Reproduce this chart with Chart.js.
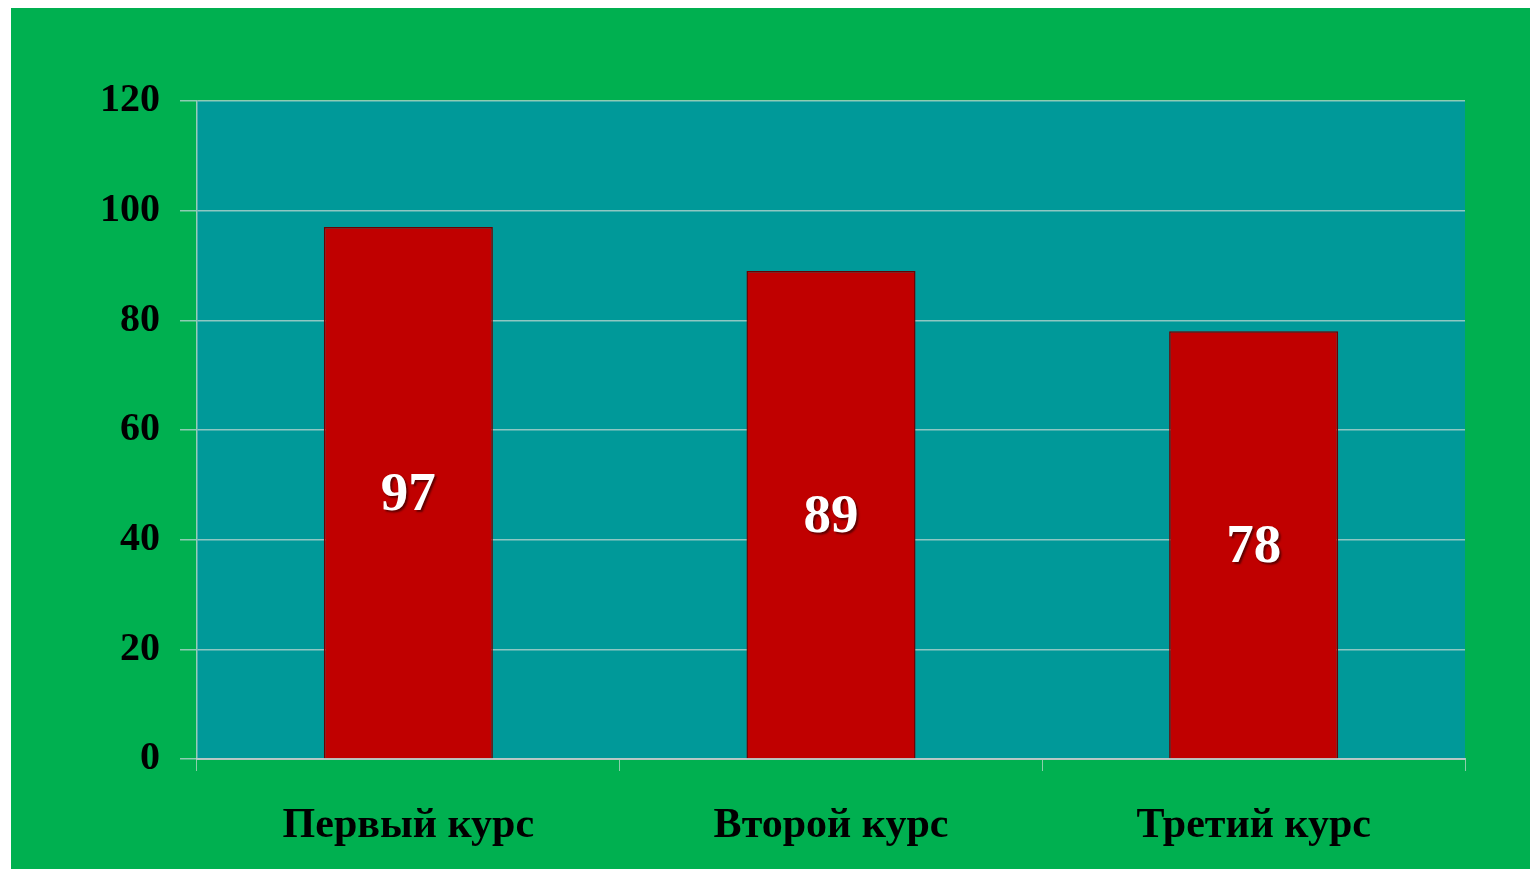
<!DOCTYPE html>
<html>
<head>
<meta charset="utf-8">
<script src="https://cdn.jsdelivr.net/npm/chart.js@4"></script>
<style>
  html, body { margin: 0; padding: 0; background: #ffffff; }
  #wrap { position: absolute; left: 11px; top: 8px; width: 1519px; height: 861px; background: #00b050; }
</style>
</head>
<body>
<div id="wrap"><canvas id="chart"></canvas></div>
<script>
// chart data
const courses = ["Первый курс", "Второй курс", "Третий курс"];
const scores = [97, 89, 78];
const yTicks = [0, 20, 40, 60, 80, 100, 120];

// teal plot background
const plotBg = {
  id: "plotBg",
  beforeDraw(chart) {
    const a = chart.chartArea;
    const ctx = chart.ctx;
    ctx.save();
    ctx.fillStyle = "#009999";
    ctx.fillRect(a.left, a.top, a.right - a.left, a.bottom - a.top);
    ctx.restore();
  },
};

// numbers in the middle of the bars
const barLabels = {
  id: "barLabels",
  afterDatasetsDraw(chart) {
    const ctx = chart.ctx;
    const meta = chart.getDatasetMeta(0);
    ctx.save();
    ctx.font = "bold 55px 'Liberation Serif'";
    ctx.fillStyle = "#ffffff";
    ctx.textAlign = "center";
    ctx.textBaseline = "middle";
    ctx.shadowColor = "rgba(0,0,0,0.5)";
    ctx.shadowOffsetX = 2;
    ctx.shadowOffsetY = 2;
    ctx.shadowBlur = 2;
    meta.data.forEach((bar, i) => {
      ctx.fillText(scores[i], bar.x, (bar.y + bar.base) / 2 + 3);
    });
    ctx.restore();
  },
};

new Chart(document.getElementById("chart"), {
  type: "bar",
  data: {
    labels: courses,
    datasets: [
      {
        data: scores,
        backgroundColor: "#c00000",
        borderColor: "#6e0000",
        borderWidth: 1.5,
        categoryPercentage: 1,
        barPercentage: 0.4,
      },
    ],
  },
  options: {
    responsive: true,
    maintainAspectRatio: false,
    animation: false,
    layout: { padding: { top: 93, right: 65, left: 0, bottom: 0 } },
    plugins: { legend: { display: false }, tooltip: { enabled: false } },
    scales: {
      x: {
        afterFit(scale) { scale.height = 110; },
        grid: {
          offset: true,
          drawOnChartArea: false,
          drawTicks: true,
          tickLength: 12,
          color: "rgba(200,220,210,0.7)",
        },
        border: { color: "rgba(190,200,200,0.9)", width: 2 },
        ticks: {
          color: "#000000",
          padding: 30,
          font: { family: "'Liberation Serif'", size: 42, weight: "bold" },
        },
      },
      y: {
        min: 0,
        max: 120,
        afterFit(scale) { scale.width = 186; },
        afterBuildTicks(scale) { scale.ticks = yTicks.map((v) => ({ value: v })); },
        grid: {
          color: "rgba(190,215,210,0.75)",
          lineWidth: 1.5,
          tickLength: 17,
        },
        border: { color: "rgba(190,210,210,0.8)", width: 1.5 },
        ticks: {
          color: "#000000",
          padding: 20,
          font: { family: "'Liberation Serif'", size: 40, weight: "bold" },
        },
      },
    },
  },
  plugins: [plotBg, barLabels],
});
</script>
</body>
</html>
